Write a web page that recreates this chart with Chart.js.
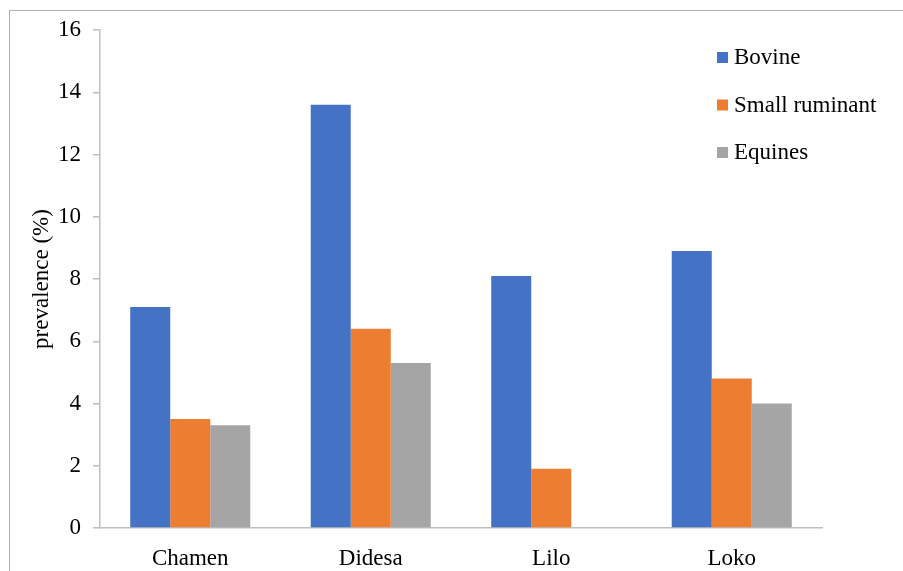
<!DOCTYPE html>
<html>
<head>
<meta charset="utf-8">
<script src="https://cdn.jsdelivr.net/npm/chart.js@4/dist/chart.umd.min.js"></script>
<style>
  html, body { margin: 0; padding: 0; background: #fff; }
  #wrap { position: relative; width: 903px; height: 571px; overflow: hidden; }
  #frame { position: absolute; left: 9px; top: 10px; width: 920px; height: 600px; border: 1px solid #b0b0b0; box-sizing: border-box; }
  canvas { position: absolute; left: 0; top: 0; }
</style>
</head>
<body>
<div id="wrap">
  <div id="frame"></div>
  <canvas id="chart" width="903" height="571"></canvas>
</div>
<script>
// Prevalence by district and species
const districts = ['Chamen', 'Didesa', 'Lilo', 'Loko'];
const bovine = [7.1, 13.6, 8.1, 8.9];
const smallRuminant = [3.5, 6.4, 1.9, 4.8];
const equines = [3.3, 5.3, null, 4.0];
const seriesNames = ['Bovine', 'Small ruminant', 'Equines'];
const seriesColors = ['#4472C4', '#ED7D31', '#A5A5A5'];

const FONT = "'Liberation Serif', 'Times New Roman', serif";

// legend drawn inside the plot, top right
const legendPlugin = {
    id: 'sideLegend',
    afterDraw(chart) {
        const ctx = chart.ctx;
        ctx.save();
        ctx.font = `23px ${FONT}`;
        ctx.textBaseline = 'middle';
        chart.data.datasets.forEach((ds, i) => {
            const y = 57 + i * 47.5;
            ctx.fillStyle = ds.backgroundColor;
            ctx.fillRect(717, y - 5, 11, 11);
            ctx.fillStyle = '#000';
            ctx.fillText(ds.label, 734, y + 1);
        });
        ctx.restore();
    }
};

const ctx = document.getElementById('chart').getContext('2d');
new Chart(ctx, {
    type: 'bar',
    data: {
        labels: districts,
        datasets: [bovine, smallRuminant, equines].map((d, i) => ({
            label: seriesNames[i],
            data: d,
            backgroundColor: seriesColors[i],
            borderWidth: 0,
            categoryPercentage: 0.665,
            barPercentage: 1
        }))
    },
    options: {
        responsive: false,
        animation: false,
        layout: { padding: { left: 0, right: 81, top: 30, bottom: 0 } },
        plugins: {
            legend: { display: false },
            tooltip: { enabled: false }
        },
        scales: {
            x: {
                grid: { display: false },
                border: { display: true, color: '#bfbfbf', width: 1.5 },
                ticks: { color: '#000', font: { family: FONT, size: 23 }, padding: 9 },
                afterFit: (scale) => { scale.height = 43; }
            },
            y: {
                min: 0,
                max: 16,
                ticks: { stepSize: 2, color: '#000', font: { family: FONT, size: 23 }, padding: 12 },
                grid: { drawOnChartArea: false, drawTicks: true, tickLength: 7, color: '#bfbfbf', lineWidth: 1.5 },
                border: { display: true, color: '#bfbfbf', width: 1.5 },
                title: {
                    display: true,
                    text: 'prevalence (%)',
                    color: '#000',
                    font: { family: FONT, size: 23 },
                    padding: { top: 28, bottom: 0 }
                },
                afterFit: (scale) => { scale.width = 100; }
            }
        }
    },
    plugins: [legendPlugin]
});
</script>
</body>
</html>
